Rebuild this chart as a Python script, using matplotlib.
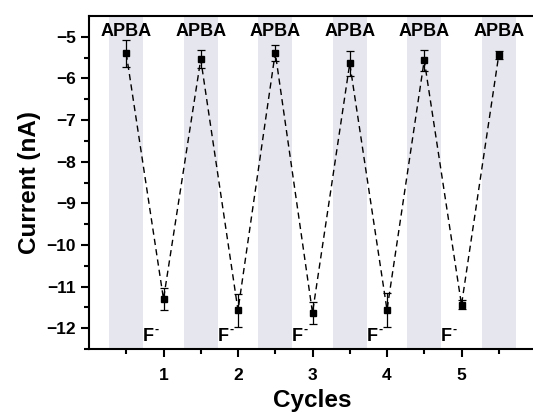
import numpy as np
import matplotlib.pyplot as plt

plt.rcParams['font.family'] = ['Liberation Sans', 'DejaVu Sans']
plt.rcParams['font.weight'] = 'bold'

# APBA steps (half cycles) and F- steps (full cycles)
apba_x = [0.5, 1.5, 2.5, 3.5, 4.5, 5.5]
apba_y = [-5.40, -5.54, -5.38, -5.64, -5.56, -5.44]
apba_err = [0.33, 0.22, 0.19, 0.29, 0.25, 0.10]

f_x = [1, 2, 3, 4, 5]
f_y = [-11.30, -11.57, -11.63, -11.56, -11.44]
f_err = [0.27, 0.39, 0.27, 0.40, 0.11]

# merge into the sequence along the dashed line
seq_x = np.array(apba_x + f_x, dtype=float)
seq_y = np.array(apba_y + f_y)
seq_e = np.array(apba_err + f_err)
order = np.argsort(seq_x)
seq_x, seq_y, seq_e = seq_x[order], seq_y[order], seq_e[order]

fig = plt.figure(figsize=(5.33, 4.12), dpi=100)
ax = fig.add_axes([89 / 533, 1 - 349 / 412, (536 - 89) / 533, (349 - 16) / 412])

# shaded APBA bands
for xc in apba_x:
    ax.axvspan(xc - 0.23, xc + 0.23, color='#e6e6ee', lw=0, zorder=0)

ax.plot(seq_x, seq_y, ls=(0, (4.5, 3)), color='black', lw=1.0, zorder=2)
ax.errorbar(seq_x, seq_y, yerr=seq_e, fmt='s', color='black', ms=5,
            ecolor='black', elinewidth=0.9, capsize=2.8, capthick=0.9, zorder=3)

for xc in apba_x:
    ax.text(xc, -4.87, 'APBA', ha='center', va='center', fontsize=13,
            fontweight='bold')
for xc in f_x:
    ax.text(xc - 0.13, -12.2, 'F', ha='right', va='center',
            fontsize=13, fontweight='bold', zorder=5)
    ax.annotate('-', (xc - 0.13, -12.2), xytext=(0.8, 5),
                textcoords='offset points', ha='left', va='center',
                fontsize=9, fontweight='bold', zorder=5)

ax.set_xlim(0, 6)
ax.set_ylim(-12.5, -4.5)
ax.set_xticks([1, 2, 3, 4, 5])
ax.set_xticks(np.arange(0.5, 6, 1.0), minor=True)
ax.set_yticks(np.arange(-12, -4, 1))
ax.set_yticks(np.arange(-12.5, -4.5, 1.0), minor=True)

ax.tick_params(which='major', direction='out', length=6, width=1.5,
               labelsize=12.5)
ax.tick_params(which='minor', direction='out', length=3.5, width=1.5)
ax.tick_params(axis='x', pad=8)
for lab in ax.get_xticklabels() + ax.get_yticklabels():
    lab.set_fontweight('bold')
for sp in ax.spines.values():
    sp.set_linewidth(1.5)

ax.set_xlabel('Cycles', fontsize=17.5, fontweight='bold', labelpad=4)
ax.set_ylabel('Current (nA)', fontsize=17.5, fontweight='bold', labelpad=4)

fig.savefig('out.png', dpi=100)
